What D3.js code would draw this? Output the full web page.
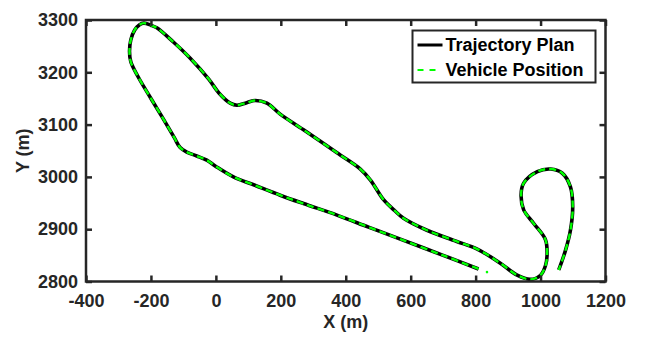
<!DOCTYPE html>
<html>
<head>
<meta charset="utf-8">
<script src="https://cdn.jsdelivr.net/npm/d3@7"></script>
<style>
  html, body { margin: 0; padding: 0; background: #fff; }
  svg { display: block; font-family: "Liberation Sans", Arial, Helvetica, sans-serif; font-weight: bold; }
</style>
</head>
<body>
<div id="chart"></div>
<script>
// trajectory plan (metres)
const trajX = [809, 700, 568, 470, 373, 270, 198, 120, 54, 0, -28, -59, -88, -110, -128, -162, -200, -240, -262, -266, -262, -250, -235, -222, -200, -182, -131, -79, -22, 10, 44, 65, 95, 121, 157, 198, 270, 373, 445, 476, 517, 550, 578, 650, 740, 805, 876, 928, 969, 1000, 1015, 1020, 1015, 979, 948, 940, 948, 990, 1031, 1067, 1092, 1099, 1092, 1077, 1056];
const trajY = [2824, 2850, 2881, 2904, 2927, 2949, 2965, 2984, 3000, 3020, 3032, 3040, 3047, 3056, 3075, 3111, 3150, 3192, 3220, 3240, 3262, 3281, 3291, 3294, 3290, 3285, 3258, 3227, 3187, 3160, 3141, 3137, 3142, 3146, 3141, 3120, 3090, 3046, 3015, 2994, 2956, 2936, 2921, 2898, 2877, 2862, 2835, 2812, 2804, 2812, 2830, 2850, 2880, 2911, 2937, 2965, 2988, 3010, 3015, 3007, 2981, 2943, 2898, 2860, 2822];
// vehicle follows the plan; one stray sample sits off the end
const vehStrayX = [835];
const vehStrayY = [2818];

const xTicks = [-400, -200, 0, 200, 400, 600, 800, 1000, 1200];
const yTicks = [2800, 2900, 3000, 3100, 3200, 3300];
const legendLabels = ['Trajectory Plan', 'Vehicle Position'];

const width = 645, height = 338;
const margin = { top: 20, right: 39.5, bottom: 56.5, left: 86 };
const plotW = width - margin.left - margin.right;
const plotH = height - margin.top - margin.bottom;
const axisColor = '#262626';
const green = '#00ff00';
const fontSize = '18px';

const svg = d3.select('#chart').append('svg')
  .attr('width', width)
  .attr('height', height);

const x = d3.scaleLinear().domain([-400, 1200]).range([0, plotW]);
const y = d3.scaleLinear().domain([2800, 3300]).range([plotH, 0]);

const g = svg.append('g').attr('transform', `translate(${margin.left},${margin.top})`);

// lines
const pts = trajX.map((v, i) => [v, trajY[i]]);
const line = d3.line().x(d => x(d[0])).y(d => y(d[1])).curve(d3.curveCatmullRom.alpha(0.5));

g.append('path')
  .attr('d', line(pts))
  .attr('fill', 'none')
  .attr('stroke', '#000')
  .attr('stroke-width', 3.6)
  .attr('stroke-linejoin', 'round');

g.append('path')
  .attr('d', line(pts))
  .attr('fill', 'none')
  .attr('stroke', green)
  .attr('stroke-width', 2.4)
  .attr('stroke-dasharray', '7,4');

g.selectAll('circle.stray')
  .data(vehStrayX)
  .join('circle')
  .attr('class', 'stray')
  .attr('cx', d => x(d))
  .attr('cy', (d, i) => y(vehStrayY[i]))
  .attr('r', 1.3)
  .attr('fill', green);

// axes: box with inward ticks on all four sides
const tickLen = 6;
const fmt = d => String(d);
function styleAxis(sel) {
  sel.select('.domain').remove();
  sel.selectAll('line').attr('stroke', axisColor).attr('stroke-width', 2.5);
  sel.selectAll('text').attr('fill', axisColor).style('font-size', fontSize).style('font-weight', 'bold');
}

g.append('g').attr('transform', `translate(0,${plotH})`)
  .call(d3.axisBottom(x).tickValues(xTicks).tickSize(-tickLen).tickPadding(13).tickFormat(fmt))
  .call(styleAxis);
g.append('g')
  .call(d3.axisTop(x).tickValues(xTicks).tickSize(-tickLen).tickFormat(''))
  .call(styleAxis);
g.append('g')
  .call(d3.axisLeft(y).tickValues(yTicks).tickSize(-tickLen).tickPadding(8).tickFormat(fmt))
  .call(styleAxis);
g.append('g').attr('transform', `translate(${plotW},0)`)
  .call(d3.axisRight(y).tickValues(yTicks).tickSize(-tickLen).tickFormat(''))
  .call(styleAxis);

g.append('rect')
  .attr('width', plotW).attr('height', plotH)
  .attr('fill', 'none')
  .attr('stroke', axisColor)
  .attr('stroke-width', 2.5);

// axis labels
svg.append('text')
  .attr('x', margin.left + plotW / 2)
  .attr('y', 328)
  .attr('text-anchor', 'middle')
  .attr('fill', axisColor)
  .style('font-size', fontSize)
  .text('X (m)');

svg.append('text')
  .attr('transform', `translate(29,${margin.top + plotH / 2}) rotate(-90)`)
  .attr('text-anchor', 'middle')
  .attr('fill', axisColor)
  .style('font-size', fontSize)
  .text('Y (m)');

// legend
const lg = svg.append('g').attr('transform', 'translate(412.5,30.5)');
lg.append('rect')
  .attr('width', 183).attr('height', 52)
  .attr('fill', '#fff')
  .attr('stroke', axisColor)
  .attr('stroke-width', 2);

lg.append('line')
  .attr('x1', 5).attr('x2', 30).attr('y1', 14.5).attr('y2', 14.5)
  .attr('stroke', '#000').attr('stroke-width', 3);
lg.append('line')
  .attr('x1', 5).attr('x2', 30).attr('y1', 39.5).attr('y2', 39.5)
  .attr('stroke', green).attr('stroke-width', 2.2)
  .attr('stroke-dasharray', '6,6,6,20');

lg.selectAll('text.leg')
  .data(legendLabels)
  .join('text')
  .attr('class', 'leg')
  .attr('x', 33)
  .attr('y', (d, i) => 14.5 + i * 25)
  .attr('dy', '0.36em')
  .attr('fill', '#000')
  .style('font-size', fontSize)
  .text(d => d);
</script>
</body>
</html>
